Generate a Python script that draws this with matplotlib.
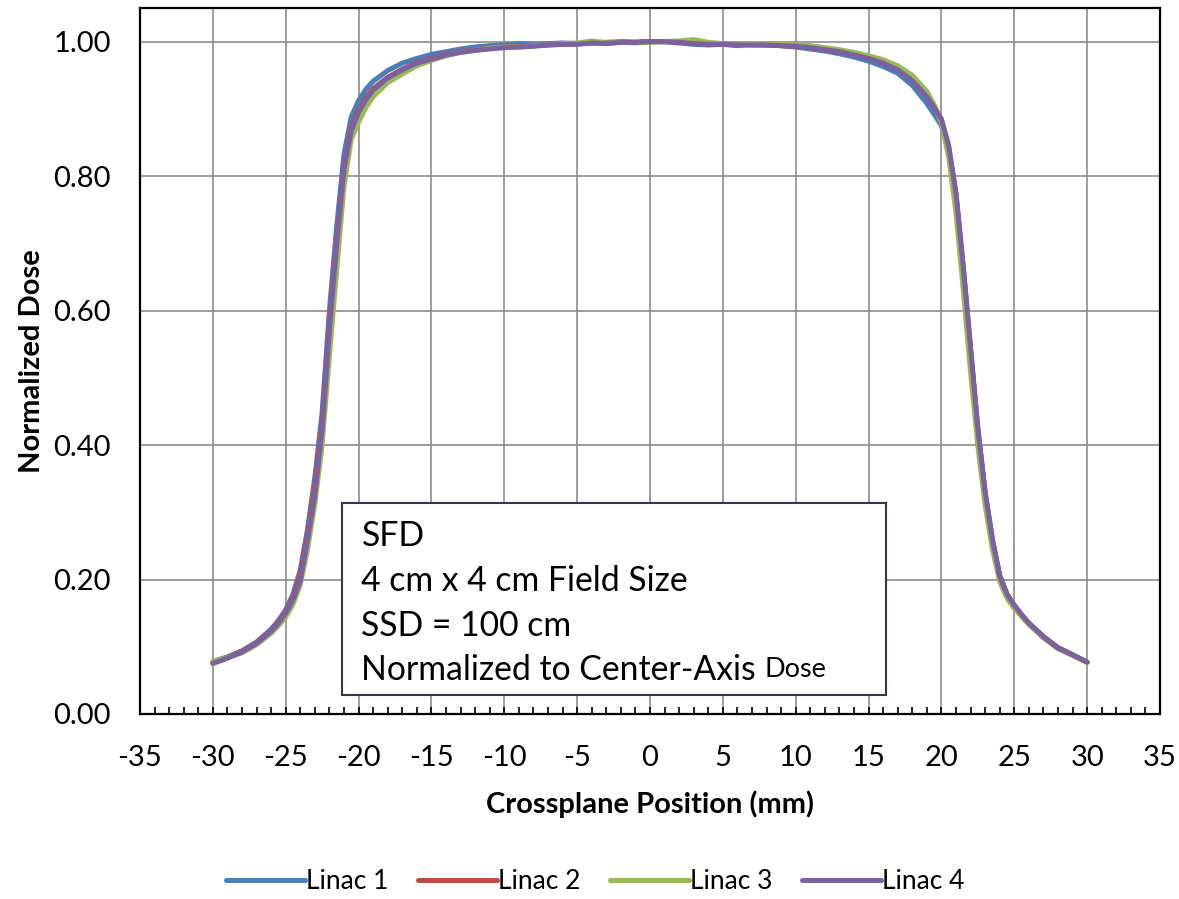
import matplotlib
matplotlib.use('Agg')
import matplotlib.pyplot as plt
from matplotlib.ticker import MultipleLocator, FormatStrFormatter

plt.rcParams['font.family'] = ['Lato', 'DejaVu Sans']
plt.rcParams['axes.unicode_minus'] = False

# crossplane positions (mm)
pos = [-30, -29, -28, -27, -26, -25.5, -25, -24.5, -24, -23.5, -23, -22.5, -22,
       -21.5, -21, -20.5, -20, -19.5, -19, -18, -17, -16, -15, -14, -13, -12,
       -11, -10, -9, -8, -7, -6, -5, -4, -3, -2, -1, 0, 1, 2, 3, 4, 5, 6, 7, 8,
       9, 10, 11, 12, 13, 14, 15, 16, 17, 18, 19, 19.5, 20, 20.5, 21, 21.5, 22,
       22.5, 23, 23.5, 24, 24.5, 25, 25.5, 26, 27, 28, 29, 30]

linac1 = [0.078, 0.085, 0.094, 0.107, 0.126, 0.139, 0.155, 0.178, 0.214, 0.275,
          0.352, 0.448, 0.600, 0.725, 0.832, 0.888, 0.912, 0.929, 0.941, 0.957,
          0.968, 0.975, 0.981, 0.985, 0.989, 0.992, 0.994, 0.995, 0.997, 0.996,
          0.997, 0.998, 0.997, 0.999, 0.999, 1.000, 0.999, 1.000, 1.000, 0.998,
          0.996, 0.995, 0.996, 0.994, 0.996, 0.995, 0.994, 0.992, 0.989, 0.986,
          0.982, 0.977, 0.971, 0.963, 0.953, 0.935, 0.908, 0.892, 0.875, 0.838,
          0.770, 0.662, 0.540, 0.422, 0.328, 0.258, 0.206, 0.178, 0.161, 0.147,
          0.135, 0.115, 0.099, 0.088, 0.077]

linac2 = [0.077, 0.084, 0.093, 0.106, 0.124, 0.137, 0.152, 0.174, 0.208, 0.266,
          0.340, 0.432, 0.578, 0.704, 0.812, 0.872, 0.898, 0.917, 0.930, 0.947,
          0.959, 0.969, 0.975, 0.981, 0.985, 0.988, 0.990, 0.992, 0.993, 0.994,
          0.995, 0.996, 0.997, 0.998, 0.998, 0.999, 0.999, 1.000, 1.000, 0.999,
          0.998, 0.997, 0.996, 0.996, 0.995, 0.995, 0.994, 0.993, 0.991, 0.988,
          0.985, 0.981, 0.976, 0.969, 0.959, 0.944, 0.920, 0.903, 0.882, 0.842,
          0.772, 0.662, 0.541, 0.422, 0.328, 0.258, 0.205, 0.178, 0.161, 0.147,
          0.135, 0.115, 0.098, 0.088, 0.077]

linac3 = [0.078, 0.084, 0.091, 0.103, 0.120, 0.131, 0.144, 0.163, 0.192, 0.245,
          0.312, 0.400, 0.532, 0.660, 0.785, 0.855, 0.880, 0.902, 0.918, 0.939,
          0.952, 0.964, 0.972, 0.979, 0.984, 0.987, 0.990, 0.992, 0.992, 0.994,
          0.995, 0.997, 0.998, 1.001, 0.998, 0.999, 0.998, 0.999, 1.000, 1.001,
          1.003, 0.999, 0.997, 0.996, 0.997, 0.996, 0.996, 0.995, 0.994, 0.991,
          0.988, 0.984, 0.979, 0.973, 0.964, 0.950, 0.926, 0.906, 0.880, 0.828,
          0.745, 0.630, 0.508, 0.398, 0.310, 0.245, 0.197, 0.172, 0.157, 0.145,
          0.133, 0.113, 0.097, 0.087, 0.077]

linac4 = [0.075, 0.083, 0.092, 0.105, 0.123, 0.135, 0.150, 0.170, 0.198, 0.260,
          0.325, 0.424, 0.571, 0.700, 0.810, 0.868, 0.895, 0.914, 0.928, 0.946,
          0.958, 0.968, 0.974, 0.980, 0.984, 0.987, 0.989, 0.991, 0.992, 0.993,
          0.995, 0.996, 0.996, 0.998, 0.997, 0.999, 0.999, 1.000, 1.000, 0.999,
          0.997, 0.996, 0.996, 0.995, 0.995, 0.995, 0.994, 0.993, 0.991, 0.988,
          0.985, 0.980, 0.975, 0.968, 0.958, 0.942, 0.918, 0.902, 0.885, 0.845,
          0.775, 0.665, 0.545, 0.425, 0.330, 0.260, 0.205, 0.178, 0.162, 0.148,
          0.135, 0.115, 0.098, 0.088, 0.077]

series = [('Linac 1', linac1, '#4a7ebb'),
          ('Linac 2', linac2, '#be4b48'),
          ('Linac 3', linac3, '#98b954'),
          ('Linac 4', linac4, '#7d60a0')]

fig = plt.figure(figsize=(11.79, 8.99), dpi=100)
ax = fig.add_axes([0.1187, 0.2058, 0.8652, 0.7853])

for name, vals, col in series:
    ax.plot(pos, vals, color=col, linewidth=3.6, label=name,
            solid_capstyle='round', solid_joinstyle='round')

ax.set_xlim(-35, 35)
ax.set_ylim(0, 1.05)
ax.xaxis.set_major_locator(MultipleLocator(5))
ax.xaxis.set_minor_locator(MultipleLocator(1))
ax.yaxis.set_major_locator(MultipleLocator(0.2))
ax.yaxis.set_major_formatter(FormatStrFormatter('%.2f'))

ax.grid(True, which='major', color='#8c8c8c', linewidth=1.2)
ax.set_axisbelow(True)
for s in ax.spines.values():
    s.set_color('black')
    s.set_linewidth(1.6)

ax.tick_params(axis='x', which='both', direction='in', length=5, width=1.2,
               labelsize=21, pad=22, colors='black')
ax.tick_params(axis='y', which='both', length=0, labelsize=21, pad=21)

ax.set_xlabel('Crossplane Position (mm)', fontsize=21, fontweight='bold', labelpad=14)
ax.set_ylabel('Normalized Dose', fontsize=21, fontweight='bold', labelpad=6)

# info box
box = plt.Rectangle((-21.14, 0.028), 37.35, 0.286, facecolor='white',
                    edgecolor='#3f3151', linewidth=1.5, zorder=5)
ax.add_patch(box)
lines = ['SFD', '4 cm x 4 cm Field Size', 'SSD = 100 cm']
line_y = [0.264, 0.198, 0.131]
for txt, yy in zip(lines, line_y):
    ax.text(-19.8, yy, txt, fontsize=24.3, va='center', ha='left', zorder=6)
last = ax.text(-19.8, 0.065, 'Normalized to Center-Axis ', fontsize=24.3,
               va='center', ha='left', zorder=6)
ax.annotate('Dose', xy=(1, 0.12), xycoords=last, fontsize=19.5,
            va='bottom', ha='left', zorder=6)

fig.legend(loc='center', bbox_to_anchor=(0.505, 0.019), ncol=4,
           frameon=False, fontsize=19, handlelength=3.0, handletextpad=0.05,
           columnspacing=1.1, borderpad=0.1)

fig.savefig('out.png', dpi=100)
